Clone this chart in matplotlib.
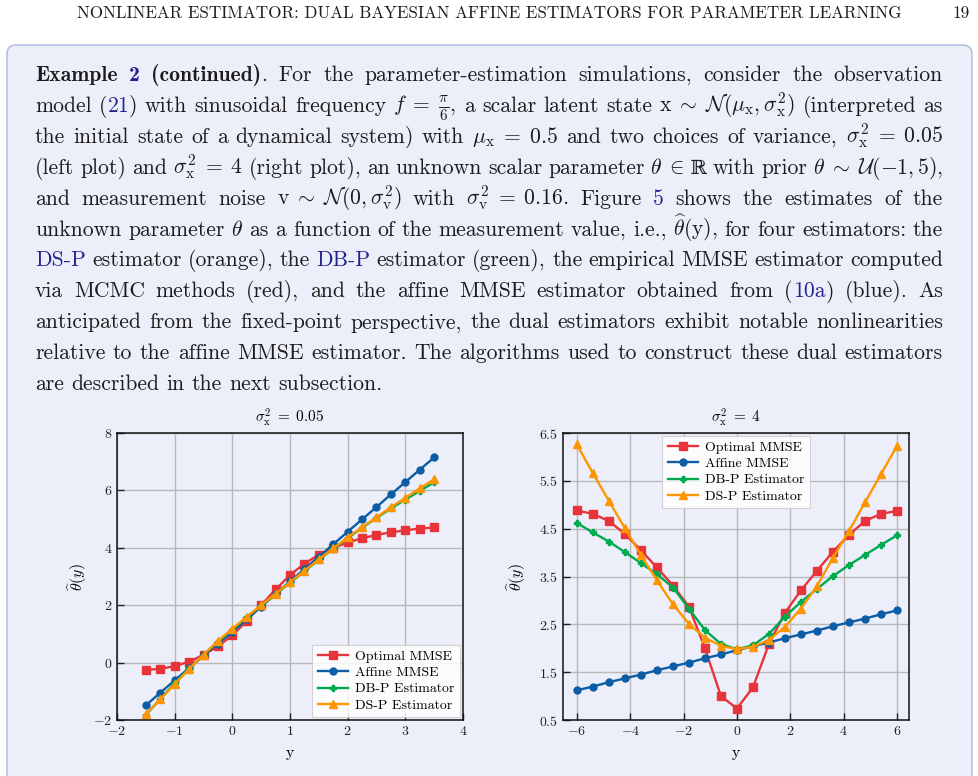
import re
import matplotlib
matplotlib.use('Agg')
import matplotlib.pyplot as plt
from matplotlib.patches import FancyBboxPatch
from matplotlib.transforms import IdentityTransform
from matplotlib.ticker import FuncFormatter

plt.rcParams['font.family'] = 'cmr10'
plt.rcParams['mathtext.fontset'] = 'cm'
plt.rcParams['axes.formatter.use_mathtext'] = True

# --- datos del grafico izquierdo (sigma_x^2 = 0.05)
left_y = [-1.5, -1.25, -1.0, -0.75, -0.5, -0.25, 0.0, 0.25, 0.5, 0.75, 1.0,
          1.25, 1.5, 1.75, 2.0, 2.25, 2.5, 2.75, 3.0, 3.25, 3.5]
left_optimal = [-0.25, -0.22, -0.12, 0.03, 0.27, 0.57, 0.95, 1.45, 2.0, 2.55, 3.05,
                3.45, 3.76, 3.99, 4.19, 4.33, 4.45, 4.54, 4.61, 4.67, 4.71]
left_affine = [-1.49, -1.05, -0.62, -0.19, 0.25, 0.66, 1.07, 1.51, 1.95, 2.39, 2.83,
               3.26, 3.69, 4.12, 4.56, 4.99, 5.42, 5.86, 6.29, 6.72, 7.15]
left_dbp = [-1.82, -1.27, -0.72, -0.22, 0.27, 0.72, 1.15, 1.58, 1.98, 2.38, 2.78,
            3.18, 3.58, 3.97, 4.33, 4.7, 5.04, 5.37, 5.68, 5.98, 6.28]
left_dsp = [-1.8, -1.28, -0.75, -0.22, 0.28, 0.75, 1.18, 1.6, 2.0, 2.4, 2.8,
            3.2, 3.6, 3.98, 4.36, 4.72, 5.06, 5.41, 5.74, 6.07, 6.39]

# --- datos del grafico derecho (sigma_x^2 = 4)
right_y = [-6.0, -5.4, -4.8, -4.2, -3.6, -3.0, -2.4, -1.8, -1.2, -0.6, 0.0,
           0.6, 1.2, 1.8, 2.4, 3.0, 3.6, 4.2, 4.8, 5.4, 6.0]
right_optimal = [4.88, 4.81, 4.66, 4.39, 4.05, 3.69, 3.31, 2.87, 2.0, 1.0, 0.74,
                 1.18, 2.09, 2.74, 3.21, 3.62, 4.02, 4.37, 4.66, 4.81, 4.87]
right_affine = [1.12, 1.2, 1.29, 1.37, 1.45, 1.54, 1.62, 1.7, 1.79, 1.87, 1.96,
                2.04, 2.12, 2.21, 2.29, 2.37, 2.46, 2.54, 2.62, 2.71, 2.79]
right_dbp = [4.62, 4.42, 4.23, 4.01, 3.78, 3.55, 3.27, 2.83, 2.38, 2.09, 1.98,
             2.06, 2.3, 2.66, 2.97, 3.24, 3.51, 3.74, 3.95, 4.16, 4.36]
right_dsp = [6.26, 5.66, 5.08, 4.51, 3.95, 3.42, 2.92, 2.51, 2.22, 2.05, 1.98,
             2.03, 2.17, 2.45, 2.83, 3.3, 3.89, 4.45, 5.05, 5.64, 6.23]

labels = ['Optimal MMSE', 'Affine MMSE', 'DB-P Estimator', 'DS-P Estimator']
colores = ['#E8333A', '#0C5DA5', '#00A94F', '#FF9500']
marcas = ['s', 'o', 'P', '^']
tam_marcas = [5.2, 5.0, 4.3, 5.2]

header = 'NONLINEAR ESTIMATOR: DUAL BAYESIAN AFFINE ESTIMATORS FOR PARAMETER LEARNING'
page_no = '19'

# ** = negrita, [[ ]] = enlace azul, {{ }} = negrita azul, << >> = simbolo aparte
parrafo = [
    r'**Example** {{2}} **(continued)**. For the parameter-estimation simulations, consider the observation',
    r'model ([[21]]) with sinusoidal frequency $f\;=\;\frac{\pi}{6}$, a scalar latent state $\mathrm{x}\;\sim\;\mathcal{N}(\mu_{\mathrm{x}},\sigma_{\mathrm{x}}^2)$ (interpreted as',
    r'the initial state of a dynamical system) with $\mu_{\mathrm{x}}\;=\;0.5$ and two choices of variance, $\sigma_{\mathrm{x}}^2\;=\;0.05$',
    r'(left plot) and $\sigma_{\mathrm{x}}^2\;=\;4$ (right plot), an unknown scalar parameter $\theta\;\in$<< ℝ>> with prior $\theta\;\sim\;\mathcal{U}(-1,5)$,',
    r'and measurement noise $\mathrm{v}\;\sim\;\mathcal{N}(0,\sigma_{\mathrm{v}}^2)$ with $\sigma_{\mathrm{v}}^2\;=\;0.16$. Figure [[5]] shows the estimates of the',
    r'unknown parameter $\theta$ as a function of the measurement value, i.e., $\widehat{\theta}(\mathrm{y})$, for four estimators: the',
    r'[[DS-P]] estimator (orange), the [[DB-P]] estimator (green), the empirical MMSE estimator computed',
    r'via MCMC methods (red), and the affine MMSE estimator obtained from ([[10a]]) (blue). As',
    r'anticipated from the fixed-point perspective, the dual estimators exhibit notable nonlinearities',
    r'relative to the affine MMSE estimator. The algorithms used to construct these dual estimators',
    r'are described in the next subsection.',
]

W, H = 979, 776
texto = '#1c1c1c'
enlace = '#24248f'

fig = plt.figure(figsize=(W / 100, H / 100), dpi=100, facecolor='white')
renderer = fig.canvas.get_renderer()


def put(x, y, s, **kw):
    return fig.text(x / W, 1 - y / H, s, **kw)


def ancho(t):
    return t.get_window_extent(renderer).width


def tokens(linea):
    out, cur, mate = [], '', False
    for ch in linea:
        if ch == '$':
            mate = not mate
        if ch == ' ' and not mate and not cur.count('<<') > cur.count('>>'):
            if cur:
                out.append(cur)
            cur = ''
        else:
            cur += ch
    if cur:
        out.append(cur)
    return out


def partes(palabra):
    segs = []
    for p in re.split(r'(\{\{.*?\}\}|\[\[.*?\]\]|\*\*.*?\*\*|<<.*?>>)', palabra):
        if not p:
            continue
        if p.startswith('{{'):
            segs.append((p[2:-2], enlace, 'cmb10'))
        elif p.startswith('[['):
            segs.append((p[2:-2], enlace, 'cmr10'))
        elif p.startswith('**'):
            segs.append((p[2:-2], texto, 'cmb10'))
        elif p.startswith('<<'):
            segs.append((p[2:-2], texto, 'DejaVu Serif'))
        else:
            segs.append((p, texto, 'cmr10'))
    return segs


# caja de fondo
caja = FancyBboxPatch((7, -30), 965, H - 45 + 30,
                      boxstyle='round,pad=0,rounding_size=9',
                      transform=IdentityTransform(), facecolor='#ECEFF9',
                      edgecolor='#A9B6DF', linewidth=1.0, zorder=-5)
fig.patches.append(caja)

# encabezado
t = put(0, 0, header, fontsize=10, color=texto)
fs_h = 10 * 826 / ancho(t)
t.set_fontsize(fs_h)
t.set_position((489 / W, 1 - 13 / H))
t.set_ha('center')
t.set_va('center')
put(970, 13, page_no, fontsize=fs_h, color=texto, ha='right', va='center')

# tamano de letra del parrafo
t = put(0, 0, parrafo[-1], fontsize=10)
fs = 10 * 347 / ancho(t)
t.remove()
t1 = put(0, 0, 'aa', fontsize=fs)
t2 = put(0, 0, 'a a', fontsize=fs)
espacio = ancho(t2) - ancho(t1)
t1.remove()
t2.remove()

x0, x1 = 35, 943
base0, paso = 81, 30.9
for i, linea in enumerate(parrafo):
    palabras = []
    for tok in tokens(linea):
        segs = []
        for s, c, fam in partes(tok):
            tam = fs * 0.92 if fam == 'DejaVu Serif' else fs
            tt = put(0, 0, s, fontsize=tam, color=c, family=fam, va='baseline')
            segs.append((tt, ancho(tt)))
        palabras.append(segs)
    total = sum(w for segs in palabras for _, w in segs)
    if i < len(parrafo) - 1:
        gap = (x1 - x0 - total) / (len(palabras) - 1)
    else:
        gap = espacio
    x = x0
    yb = base0 + i * paso
    for segs in palabras:
        for tt, w in segs:
            tt.set_position((x / W, 1 - yb / H))
            x += w
        x += gap


# --- graficos
def grafico(ax, xs, series, xlim, ylim, xticks, yticks, titulo, loc, ylab_x):
    for serie, lab, col, m, ms in zip(series, labels, colores, marcas, tam_marcas):
        ax.plot(xs, serie, color=col, marker=m, markersize=ms, linewidth=1.7,
                label=lab)
    ax.set_xlim(xlim)
    ax.set_ylim(ylim)
    ax.set_xticks(xticks)
    ax.set_yticks(yticks)
    ax.xaxis.set_major_formatter(FuncFormatter(lambda v, p: f'${v:g}$'))
    ax.yaxis.set_major_formatter(FuncFormatter(lambda v, p: f'${v:g}$'))
    ax.tick_params(direction='in', length=5, width=1.0, labelsize=10,
                   colors='#222222')
    ax.grid(True, color='#b8b8b8', linewidth=1.0)
    ax.set_axisbelow(True)
    for s in ax.spines.values():
        s.set_linewidth(1.1)
        s.set_color('#111111')
    ax.set_facecolor('none')
    ax.set_xlabel('y', fontsize=11.5)
    ax.xaxis.set_label_coords(0.5, -0.09)
    ax.set_ylabel(r'$\widehat{\theta}(y)$', fontsize=11.5)
    ax.yaxis.set_label_coords(ylab_x, 0.5)
    ax.text(0.5, 1 + 15 / 287, titulo, transform=ax.transAxes, ha='center',
            va='center', fontsize=11)
    leg = ax.legend(loc=loc, fontsize=10, framealpha=0.85, edgecolor='#cccccc',
                    fancybox=False, handlelength=2.2, borderaxespad=0.2,
                    handletextpad=0.5, labelspacing=0.25)
    leg.get_frame().set_linewidth(0.8)


ax1 = fig.add_axes([117 / W, 56 / H, 346 / W, 287 / H])
grafico(ax1, left_y, [left_optimal, left_affine, left_dbp, left_dsp],
        (-2, 4), (-2, 8), [-2, -1, 0, 1, 2, 3, 4], [-2, 0, 2, 4, 6, 8],
        r'$\sigma_{\mathrm{x}}^2\;=\;0.05$', 'lower right', -0.08)

ax2 = fig.add_axes([563 / W, 56 / H, 346 / W, 287 / H])
grafico(ax2, right_y, [right_optimal, right_affine, right_dbp, right_dsp],
        (-6.52, 6.45), (0.5, 6.5), [-6, -4, -2, 0, 2, 4, 6],
        [0.5, 1.5, 2.5, 3.5, 4.5, 5.5, 6.5],
        r'$\sigma_{\mathrm{x}}^2\;=\;4$', 'upper center', -0.1)

fig.savefig('out.png', dpi=100)
